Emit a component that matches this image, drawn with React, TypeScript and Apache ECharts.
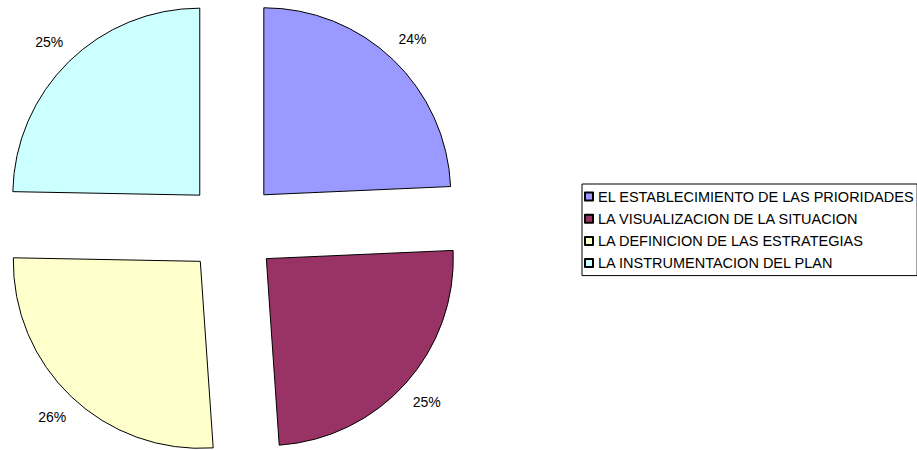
import React, { useEffect, useRef } from "react";
import * as echarts from "echarts";

const categories = [
  "EL ESTABLECIMIENTO DE LAS PRIORIDADES",
  "LA VISUALIZACION DE LA SITUACION",
  "LA DEFINICION DE LAS ESTRATEGIAS",
  "LA INSTRUMENTACION DEL PLAN",
];
const values = [24.3, 24.6, 26.4, 24.7];
const colors = ["#9999FF", "#993366", "#FFFFCC", "#CCFFFF"];

const FONT = "'Liberation Sans', Arial, sans-serif";

export default function App() {
  const ref = useRef<HTMLDivElement>(null);
  useEffect(() => {
    document.body.style.margin = "0";
    const chart = echarts.init(ref.current!, null, { renderer: "svg" });
    const data = categories.map((name, i) => ({
      name,
      value: values[i],
      selected: true,
      itemStyle: { color: colors[i] },
    }));
    chart.setOption({
      animation: false,
      color: colors,
      legend: {
        orient: "vertical",
        left: 582,
        top: 184,
        padding: [5, 3, 5, 2],
        itemWidth: 8,
        itemHeight: 8,
        itemGap: 7.2,
        borderColor: "#000",
        borderWidth: 1,
        icon: "rect",
        selectedMode: false,
        data: categories,
        textStyle: { fontFamily: FONT, fontSize: 14.5, color: "#000" },
      },
      series: [
        {
          type: "pie",
          center: [232, 228],
          radius: [0, 187],
          startAngle: 90,
          clockwise: true,
          selectedMode: "multiple",
          selectedOffset: 46,
          silent: true,
          label: { show: false },
          labelLine: { show: false },
          itemStyle: { borderColor: "#000", borderWidth: 1 },
          emphasis: { disabled: true },
          data,
        },
        {
          type: "pie",
          center: [232, 228],
          radius: [0, 516],
          startAngle: 90,
          clockwise: true,
          silent: true,
          z: 1,
          itemStyle: { color: "rgba(0,0,0,0)", borderWidth: 0 },
          emphasis: { disabled: true },
          labelLine: { show: false },
          label: {
            show: true,
            position: "inside",
            fontFamily: FONT,
            fontSize: 14,
            color: "#000",
            formatter: (p: any) => Math.round(p.percent) + "%",
          },
          data: categories.map((name, i) => ({ name, value: values[i] })),
        },
      ],
    });
    return () => chart.dispose();
  }, []);
  return <div ref={ref} style={{ width: 917, height: 450 }} />;
}
